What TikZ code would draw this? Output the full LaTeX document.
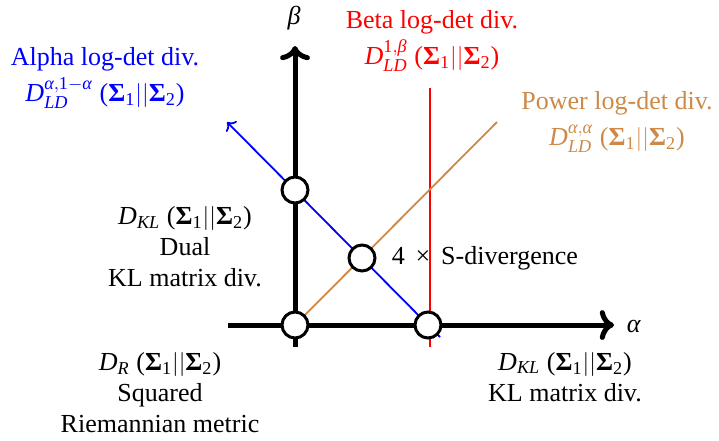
\documentclass[tikz,border=0pt]{standalone}
\usepackage{amsmath}
\usepackage{fontspec}
\setmainfont{Liberation Serif}
\usetikzlibrary{arrows.meta, positioning, calc}
\definecolor{powerc}{RGB}{205,137,72}
\tikzstyle{axis} = [line width=2.5pt,->]
\tikzstyle{divline} = [line width=0.9pt]
\tikzstyle{pt} = [circle, draw=black, fill=white, line width=1.5pt, minimum size=13pt, inner sep=0pt]
\tikzstyle{lbl} = [align=center, inner sep=1pt]
% Times-like math pieces taken from the text font
\newcommand{\vi}[1]{\textit{#1}}
\newcommand{\SigPair}{\;\text{(}\textbf{Σ}_{\text{1}}||\textbf{Σ}_{\text{2}}\text{)}}
\newcommand{\Dvar}[1]{\vi{D}_{\vi{#1}}}

\begin{document}
\begin{tikzpicture}[x=0.5pt, y=-0.5pt, every node/.style={font=\fontsize{13}{15.5}\selectfont}]
  \useasboundingbox (0,0) rectangle (719,440);
  % axes
  \coordinate (xs) at (228,325);
  \coordinate (xe) at (614,325);
  \coordinate (ys) at (295,347);
  \coordinate (ye) at (295,46);
  \draw[axis] (xs) -- (xe);
  \draw[axis] (ys) -- (ye);
  \node (alab) at (634,326) {\vi{α}};
  \node (blab) at (294,18) {\vi{β}};

  % divergence families
  \coordinate (ablo) at (440,337);
  \coordinate (abhi) at (227,122);
  \coordinate (betlo) at (430,347);
  \coordinate (bethi) at (430,88);
  \coordinate (powhi) at (497,122);
  \draw[divline, blue, ->] (ablo) -- (abhi);
  \draw[divline, red] (betlo) -- (bethi);
  \draw[divline, powerc] (295,325) -- (powhi);

  % special points
  \node[pt] (riem) at (295,325) {};
  \node[pt] (dkl) at (295,190) {};
  \node[pt] (sdiv) at (362,258) {};
  \node[pt] (kl) at (428,325) {};

  % labels
  \node[lbl, blue] (alpha) at (105,78) {Alpha log-det div.\\[2.5pt]$\Dvar{LD}^{\vi{α},\text{1}-\vi{α}}\SigPair$};
  \node[lbl, red] (beta) at (432,41) {Beta log-det div.\\[2.5pt]$\Dvar{LD}^{\text{1},\vi{β}}\SigPair$};
  \node[lbl, powerc] (power) at (617,122) {Power log-det div.\\[2.5pt]$\Dvar{LD}^{\vi{α},\vi{α}}\SigPair$};
  \node[lbl] (duallab) at (185,247) {$\Dvar{KL}\SigPair$\\Dual\\KL matrix div.};
  \node[lbl, right=6.5pt of sdiv] (slab) {4 \,×\, S-divergence};
  \node[lbl] (riemlab) at (160,393) {$\Dvar{R}\SigPair$\\Squared\\Riemannian metric};
  \node[lbl] (kllab) at (565,377) {$\Dvar{KL}\SigPair$\\KL matrix div.};
\end{tikzpicture}
\end{document}
